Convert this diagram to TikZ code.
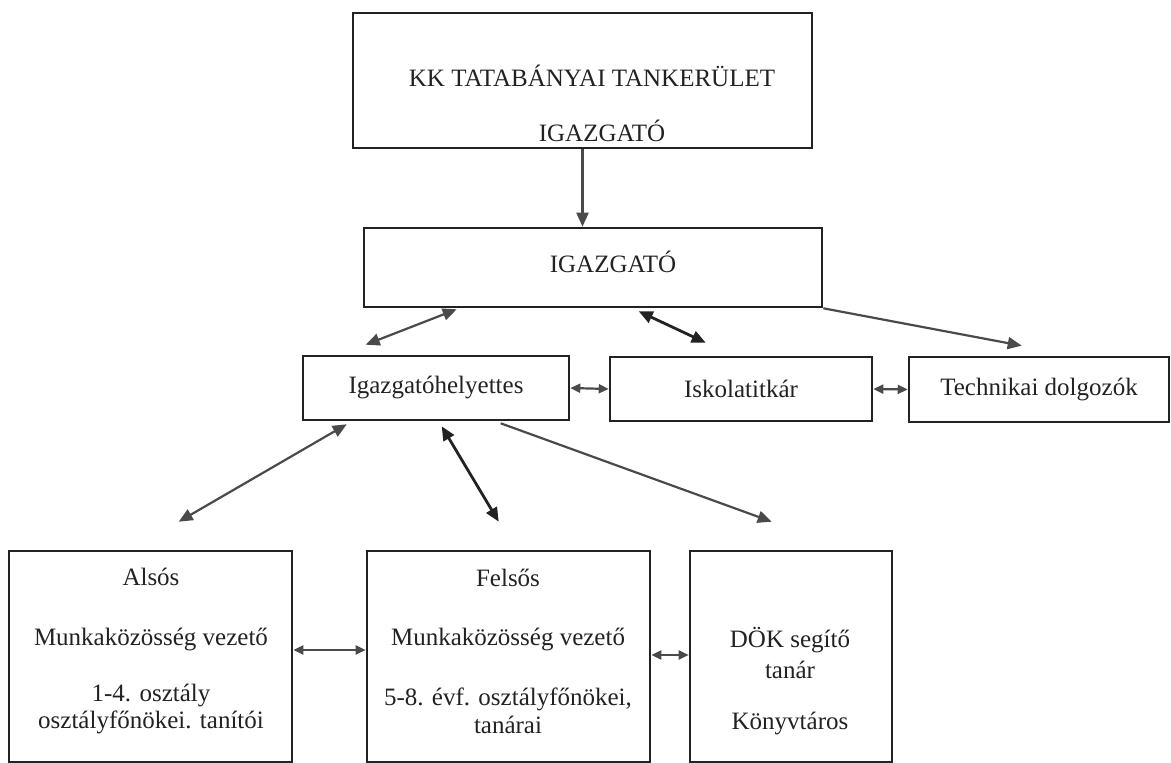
\documentclass[tikz,border=0pt]{standalone}
\usepackage{fontspec}
\setmainfont{Liberation Serif}
\usetikzlibrary{arrows.meta}
\definecolor{ink}{HTML}{222222}
\definecolor{linegray}{HTML}{4A4A4A}
\tikzset{
 orgbox/.style={draw=ink,line width=1.3pt,inner sep=0pt,text=ink},
 txt/.style={inner sep=0pt,anchor=base,text=ink},
 link/.style={draw=linegray,line width=1.1pt},
 linkdark/.style={draw=ink,line width=1.4pt},
 side/.style={link,{Triangle[length=5pt,width=4.5pt]}-{Triangle[length=5pt,width=4.5pt]}}
}
\begin{document}
\begin{tikzpicture}[x=0.5pt,y=-0.5pt,>={Triangle[length=7pt,width=6pt]},font=\fontsize{12.5}{14}\selectfont]
 \useasboundingbox (0,0) rectangle (1171,763);
 % boxes
 \node[orgbox,minimum width=229.5pt,minimum height=67.5pt] (tank) at (582.5,80.5) {};
 \node[orgbox,minimum width=229pt,minimum height=39.5pt] (igazgato) at (593,267.5) {};
 \node[orgbox,minimum width=133pt,minimum height=32pt] (helyettes) at (436,388) {Igazgatóhelyettes};
 \node[orgbox,minimum width=131pt,minimum height=32pt] (titkar) at (741,389) {Iskolatitkár};
 \node[orgbox,minimum width=130pt,minimum height=32.5pt] (technikai) at (1039,389.5) {Technikai dolgozók};
 \node[orgbox,minimum width=141.5pt,minimum height=105.5pt] (alsos) at (150.5,656.5) {};
 \node[orgbox,minimum width=141.5pt,minimum height=105.5pt] (felsos) at (508.5,656.5) {};
 \node[orgbox,minimum width=101pt,minimum height=105.5pt] (dok) at (791,656.5) {};
 % texts
 \node[txt] (tank-1) at (592,87) {KK TATABÁNYAI TANKERÜLET};
 \node[txt] (tank-2) at (602,142) {IGAZGATÓ};
 \node[txt] (igazgato-1) at (613,273) {IGAZGATÓ};
 \foreach \i/\y/\t in {1/585/Alsós,2/645/Munkaközösség vezető,3/701/1-4. osztály,4/728/osztályfőnökei. tanítói}
  \node[txt] (alsos-\i) at (151,\y) {\t};
 \foreach \i/\y/\t in {1/587/Felsős,2/645/Munkaközösség vezető,3/705/{5-8. évf. osztályfőnökei,},4/733/tanárai}
  \node[txt] (felsos-\i) at (508,\y) {\t};
 \foreach \i/\y/\t in {1/647/DÖK segítő,2/678/tanár,3/729/Könyvtáros}
  \node[txt] (dok-\i) at (790,\y) {\t};
 % connectors
 \draw[link,->] (tank.south) -- (tank.south |- igazgato.north);
 \draw[link,<->] ([shift={(94,1)}]igazgato.south west) -- ([shift={(64,-10)}]helyettes.north west);
 \draw[linkdark,<->] ([shift={(276,3)}]igazgato.south west) -- ([shift={(97,-13)}]titkar.north west);
 \draw[link,->] (igazgato.south east) -- ([shift={(114,-10)}]technikai.north west);
 \draw[side] (helyettes.east) -- (titkar.west);
 \draw[side] (titkar.east) -- (technikai.west);
 \draw[link,<->] ([shift={(45,3)}]helyettes.south west) -- ([shift={(171,-28)}]alsos.north west);
 \draw[linkdark,<->] ([shift={(140,5)}]helyettes.south west) -- ([shift={(133,-28)}]felsos.north west);
 \draw[link,->] ([shift={(199,2)}]helyettes.south west) -- ([shift={(83,-28)}]dok.north west);
 \draw[side] ([yshift=3.25pt]alsos.east) -- ([yshift=3.25pt]felsos.west);
 \draw[side] ([yshift=0.75pt]felsos.east) -- ([yshift=0.75pt]dok.west);
\end{tikzpicture}
\end{document}
